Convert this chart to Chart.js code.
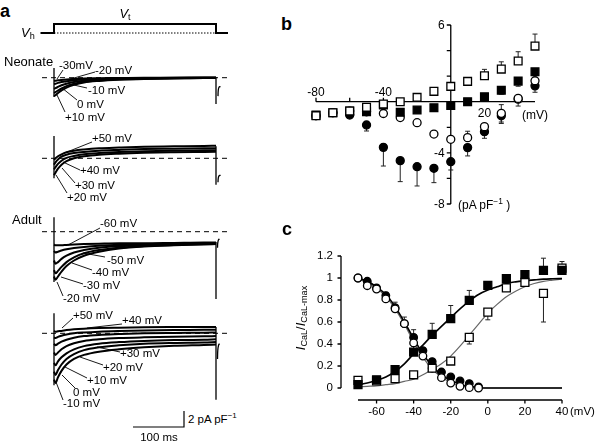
<!DOCTYPE html>
<html>
<head>
<meta charset="utf-8">
<script src="https://cdn.jsdelivr.net/npm/chart.js@4.4.0/dist/chart.umd.min.js"></script>
<style>
  body { margin: 0; width: 600px; height: 446px; position: relative; background: #fff; overflow: hidden;
         font-family: "Liberation Sans", Arial, Helvetica, sans-serif; color: #000; }
  canvas { position: absolute; }
  .t { position: absolute; font-size: 11.5px; line-height: 1; white-space: nowrap; }
  .tick { font-size: 12px; }
  .tickc { font-size: 11.5px; }
  .panel { font-size: 18px; font-weight: bold; }
  .grp { font-size: 13px; }
  sub { font-size: 0.7em; vertical-align: -0.25em; line-height: 0; }
  svg { position: absolute; left: 0; top: 0; }
</style>
</head>
<body>
<svg id="leaders" width="600" height="446"></svg>
<script>
// ---------- panel a: current traces (pA/pF) sampled at these times (ms) ----------
const traceTimes = [0, 3, 8, 15, 25, 40, 60, 90, 130, 180, 240, 300, 324];

const neoNegLabels = ['-30mV', '-20 mV', '-10 mV', '0 mV', '+10 mV'];
const neoNegTraces = [
  [-0.4, -0.38, -0.33, -0.28, -0.22, -0.16, -0.1, -0.07, -0.04, 0, 0, 0.03, 0.03],
  [-0.8, -0.75, -0.65, -0.55, -0.45, -0.33, -0.22, -0.15, -0.1, -0.05, 0, 0, 0],
  [-1.4, -1.3, -1.15, -0.95, -0.75, -0.55, -0.38, -0.25, -0.15, -0.1, -0.05, 0, 0],
  [-1.9, -1.8, -1.6, -1.35, -1.05, -0.75, -0.5, -0.33, -0.2, -0.12, -0.08, -0.05, -0.05],
  [-2.3, -2.2, -1.9, -1.6, -1.25, -0.9, -0.6, -0.4, -0.25, -0.15, -0.1, -0.05, -0.05]
];
const neoPosLabels = ['+50 mV', '+40 mV', '+30 mV', '+20 mV'];
const neoPosTraces = [
  [-0.2, 0.0, 0.25, 0.5, 0.75, 0.95, 1.1, 1.25, 1.35, 1.45, 1.5, 1.55, 1.58],
  [-0.8, -0.5, -0.15, 0.2, 0.45, 0.65, 0.8, 0.95, 1.05, 1.15, 1.2, 1.25, 1.27],
  [-1.4, -1.1, -0.7, -0.3, 0.05, 0.3, 0.5, 0.65, 0.78, 0.88, 0.95, 1.0, 1.02],
  [-2.1, -1.8, -1.3, -0.8, -0.35, 0.0, 0.25, 0.45, 0.58, 0.68, 0.75, 0.8, 0.82]
];
const adultNegLabels = ['-60 mV', '-50 mV', '-40 mV', '-30 mV', '-20 mV'];
const adultNegTraces = [
  [-1.6, -1.7, -1.7, -1.7, -1.65, -1.6, -1.55, -1.5, -1.45, -1.45, -1.4, -1.35, -1.35],
  [-2.4, -2.6, -2.5, -2.35, -2.2, -2.05, -1.9, -1.75, -1.65, -1.55, -1.5, -1.45, -1.4],
  [-3.6, -4.0, -3.8, -3.4, -3.0, -2.6, -2.3, -2.0, -1.8, -1.65, -1.55, -1.5, -1.45],
  [-4.8, -5.2, -4.9, -4.4, -3.8, -3.2, -2.7, -2.3, -2.0, -1.8, -1.65, -1.55, -1.5],
  [-5.6, -6.0, -5.6, -5.0, -4.3, -3.6, -3.0, -2.5, -2.1, -1.85, -1.7, -1.6, -1.55]
];
const adultPosLabels = ['+50 mV', '+40 mV', '+30 mV', '+20 mV', '+10 mV', '0 mV', '-10 mV'];
const adultPosTraces = [
  [0.3, 0.2, 0.25, 0.3, 0.4, 0.5, 0.58, 0.65, 0.7, 0.75, 0.78, 0.8, 0.8],
  [-0.5, -0.6, -0.45, -0.3, -0.15, 0.0, 0.1, 0.2, 0.28, 0.35, 0.4, 0.43, 0.45],
  [-1.3, -1.5, -1.3, -1.05, -0.8, -0.55, -0.35, -0.2, -0.1, 0.0, 0.05, 0.08, 0.1],
  [-2.4, -2.7, -2.4, -2.0, -1.6, -1.25, -0.95, -0.75, -0.6, -0.5, -0.42, -0.38, -0.35],
  [-3.7, -4.0, -3.5, -3.0, -2.5, -2.0, -1.6, -1.3, -1.1, -0.95, -0.85, -0.8, -0.75],
  [-4.8, -5.2, -4.6, -3.9, -3.2, -2.6, -2.1, -1.75, -1.5, -1.3, -1.2, -1.15, -1.1],
  [-5.8, -6.2, -5.5, -4.7, -3.9, -3.2, -2.7, -2.3, -2.0, -1.75, -1.55, -1.45, -1.4]
];
// capacity transients at pulse on / off, and the tail hook after the pulse
const onsetArtifact = [[1.2, -2.4], [2.8, -2.5], [1.8, -6.3], [2.5, -6.5]];
const offsetArtifact = [[0.1, -3.3], [1.5, -3.3], [-1.3, -8.4], [0.8, -8.3]];
const hookTimes = [[328, 328.5, 330, 333], [328, 328.5, 330, 333], [327, 327.5, 329, 331], [327, 327.5, 329, 331]];
const hookValues = [[-2.3, -1.6, -1.2, -1.1], [-3.0, -2.5, -2.2, -2.1], [-2.0, -1.4, -1.0, -0.9], [-3.2, -2.2, -1.5, -1.3]];

// voltage protocol
const protoTimes = [-27, 0, 0, 324, 324, 348];
const protoLevels = [0, 0, 1, 1, 0, 0];

// ---------- panel b: I-V relation ----------
const ivVoltages = [-80, -70, -60, -50, -40, -30, -20, -10, 0, 10, 20, 30, 40, 50];
const ivOpenSq = [-1.09, -0.86, -0.73, -0.44, -0.18, 0.0, 0.34, 0.81, 1.2, 1.59, 2.03, 2.55, 3.18, 4.35];
const ivOpenSqErrUp = [0, 0, 0, 0, 0, 0, 0, 0, 0, 0, 0.5, 0.57, 0.73, 0.94];
const ivFilledSq = [-1.05, -0.86, -0.73, -0.79, -0.25, -0.83, -0.65, -0.47, -0.29, 0, 0.39, 0.89, 1.61, 2.34];
const ivFilledSqErrDown = [0, 0, 0, 0, 0, 0, 0, 0, 0, 0, 0, 0.3, 0.4, 0];
const ivOpenCirc = [-1.09, -0.86, -0.73, -0.79, -0.92, -1.24, -1.64, -2.53, -2.94, -2.81, -1.95, -0.91, 0.26, 1.64];
const ivOpenCircErrUp = [0, 0, 0, 0, 0, 0, 0, 0, 0, 0.5, 0, 0.68, 0, 0];
const ivOpenCircErrDown = [0, 0, 0, 0, 0, 0, 0, 0, 0, 0, 0, 0.68, 0.6, 0];
const ivFilledCirc = [-1.09, -0.86, -1.04, -1.82, -3.57, -4.61, -5.08, -5.21, -4.69, -3.59, -2.34, -1.1, 0.2, 1.24];
const ivFilledCircErrDown = [0, 0, 0, 0.47, 1.46, 1.64, 1.51, 1.12, 0.65, 0.65, 0.52, 0.6, 0, 0.5];
const ivXTicks = [-80, -60, -40, -20, 0, 20, 40];
const ivYTicks = [6, 4, 2, -2, -4, -6, -8];
const ivXLabelsAbove = [-80, -40];
const ivXLabelsBelow = [20];
const ivYLabels = [6, -4, -8];

// ---------- panel c: activation / inactivation ----------
const actVoltages = [-70, -60, -50, -40, -30, -20, -10, 0, 10, 20, 30, 40];
const actAdult = [0.03, 0.075, 0.167, 0.327, 0.488, 0.63, 0.797, 0.933, 0.994, 1.03, 1.07, 1.07];
const actAdultErrUp = [0, 0, 0, 0.05, 0.1, 0.12, 0.09, 0, 0, 0, 0.11, 0];
const actNeo = [0.07, 0.064, 0.085, 0.12, 0.18, 0.245, 0.46, 0.69, 0.91, 0.96, 0.86, 1.09];
const actNeoErrUp = [0, 0, 0, 0, 0, 0, 0, 0, 0, 0, 0, 0.06];
const actNeoErrDown = [0, 0, 0, 0, 0, 0, 0.06, 0.07, 0, 0, 0.26, 0];
const inactVoltages = [-70, -65, -60, -55, -50, -45, -40, -35, -30, -25, -20, -15, -10, -5];
const inactNeo = [1.0, 0.93, 0.9, 0.81, 0.72, 0.585, 0.41, 0.29, 0.18, 0.094, 0.045, 0.015, 0.003, 0.0];
const inactNeoErrUp = [0, 0, 0, 0, 0.06, 0.06, 0, 0, 0, 0, 0, 0, 0, 0];
const inactAdult = [1.0, 0.97, 0.91, 0.84, 0.73, 0.585, 0.46, 0.34, 0.24, 0.145, 0.1, 0.064, 0.04, 0.01];
const inactAdultErrUp = [0, 0, 0, 0.03, 0, 0, 0.07, 0, 0, 0, 0, 0, 0, 0];
const fitVoltages = [-70, -65, -60, -55, -50, -45, -40, -35, -30, -25, -20, -15, -10, -5, 0, 5, 10, 15, 20, 25, 30, 35, 40];
const fitActAdult = [0.03, 0.045, 0.07, 0.1, 0.15, 0.22, 0.31, 0.39, 0.48, 0.56, 0.64, 0.72, 0.79, 0.85, 0.89, 0.92, 0.95, 0.965, 0.975, 0.983, 0.99, 0.993, 0.995];
const fitActNeo = [0.01, 0.015, 0.02, 0.03, 0.04, 0.06, 0.08, 0.12, 0.17, 0.22, 0.29, 0.38, 0.48, 0.58, 0.68, 0.76, 0.83, 0.88, 0.92, 0.95, 0.97, 0.98, 0.99];
const fitInactAdult = [1.0, 0.97, 0.92, 0.85, 0.74, 0.6, 0.45, 0.31, 0.2, 0.12, 0.07, 0.035, 0.015, 0.005, 0, 0, 0, 0, 0, 0, 0, 0, 0];
const fitInactNeo = [0.99, 0.96, 0.91, 0.83, 0.72, 0.58, 0.42, 0.28, 0.17, 0.1, 0.05, 0.02, 0.008, 0.002, 0, 0, 0, 0, 0, 0, 0, 0, 0];
const cXTicks = [-60, -40, -20, 0, 20, 40];
const cYTicks = [0, 0.2, 0.4, 0.6, 0.8, 1, 1.2];

// ---------- helpers ----------
function makeCanvas(left, top, w, h) {
  const c = document.createElement('canvas');
  c.width = w; c.height = h;
  c.style.left = left + 'px'; c.style.top = top + 'px';
  c.style.width = w + 'px'; c.style.height = h + 'px';
  document.body.appendChild(c);
  return c;
}

function text(html, x, y, cls, align) {
  const d = document.createElement('div');
  d.className = 't ' + (cls || '');
  d.innerHTML = html;
  d.style.left = x + 'px';
  d.style.top = y + 'px';
  const tx = align === 'r' ? '-100%' : align === 'c' ? '-50%' : '0';
  d.style.transform = 'translate(' + tx + ',-50%)';
  document.body.appendChild(d);
  return d;
}

function pts(xs, ys) {
  return xs.map((x, i) => ({ x: x, y: ys[i] }));
}

function baseOptions(xmin, xmax, ymin, ymax, padding) {
  return {
    responsive: false,
    animation: false,
    events: [],
    layout: { padding: padding || 0 },
    plugins: { legend: { display: false }, tooltip: { enabled: false } },
    scales: {
      x: { type: 'linear', min: xmin, max: xmax, display: false },
      y: { type: 'linear', min: ymin, max: ymax, display: false }
    }
  };
}

function drawErrors(ctx, chart, xs, ys, up, down, cap) {
  const { x, y } = chart.scales;
  ctx.beginPath();
  xs.forEach((v, i) => {
    const px = x.getPixelForValue(v);
    const py = y.getPixelForValue(ys[i]);
    if (up && up[i]) {
      const pt = y.getPixelForValue(ys[i] + up[i]);
      ctx.moveTo(px, py); ctx.lineTo(px, pt);
      ctx.moveTo(px - cap, pt); ctx.lineTo(px + cap, pt);
    }
    if (down && down[i]) {
      const pb = y.getPixelForValue(ys[i] - down[i]);
      ctx.moveTo(px, py); ctx.lineTo(px, pb);
      ctx.moveTo(px - cap, pb); ctx.lineTo(px + cap, pb);
    }
  });
  ctx.stroke();
}

// ---------- panel a ----------
const TR_LEFT = 40, TR_WIDTH = 190, T_MIN = -28, T_MAX = 352, PX_PER_UNIT = 8;

function traceGroup(top, height, zeroY, traces, k) {
  const canvas = makeCanvas(TR_LEFT, top, TR_WIDTH, height);
  const ymax = (zeroY - top) / PX_PER_UNIT;
  const ymin = -(top + height - zeroY) / PX_PER_UNIT;
  const datasets = [];
  datasets.push({
    data: [{ x: -24, y: 0 }, { x: 352, y: 0 }],
    borderColor: '#000', borderWidth: 1, borderDash: [5, 4], pointRadius: 0
  });
  traces.forEach(tr => {
    datasets.push({
      data: pts(traceTimes, tr),
      borderColor: '#000', borderWidth: 2, pointRadius: 0,
      cubicInterpolationMode: 'monotone'
    });
  });
  datasets.push({
    data: pts([0, 0], onsetArtifact[k]),
    borderColor: '#000', borderWidth: 1.3, pointRadius: 0
  });
  datasets.push({
    data: pts([324, 324], offsetArtifact[k]),
    borderColor: '#000', borderWidth: 1.3, pointRadius: 0
  });
  datasets.push({
    data: pts(hookTimes[k], hookValues[k]),
    borderColor: '#000', borderWidth: 1.3, pointRadius: 0, tension: 0.4
  });
  datasets.forEach(d => { d.clip = false; });
  new Chart(canvas, { type: 'line', data: { datasets: datasets }, options: baseOptions(T_MIN, T_MAX, ymin, ymax) });
}

// voltage protocol
(function () {
  const canvas = makeCanvas(TR_LEFT, 18, TR_WIDTH, 20);
  new Chart(canvas, {
    type: 'line',
    data: {
      datasets: [
        { data: pts(protoTimes, protoLevels), borderColor: '#000', borderWidth: 2, pointRadius: 0, clip: false },
        { data: [{ x: 0, y: 0 }, { x: 324, y: 0 }], borderColor: '#000', borderWidth: 1, borderDash: [1.5, 1.5], pointRadius: 0, clip: false }
      ]
    },
    options: baseOptions(T_MIN, T_MAX, 0, 1, { top: 6, bottom: 5 })
  });
})();

traceGroup(62, 50, 77.7, neoNegTraces, 0);
traceGroup(130, 60, 158.3, neoPosTraces, 1);
traceGroup(212, 92, 231.7, adultNegTraces, 2);
traceGroup(308, 96, 333.3, adultPosTraces, 3);

// panel a text
text('a', 0, 11, 'panel');
text('<i>V</i><sub>t</sub>', 125, 13, 'grp', 'c');
text('<i>V</i><sub>h</sub>', 21, 32, 'grp');
text('Neonate', 4, 61, 'grp');
text('Adult', 12, 219, 'grp');

const traceLabelPos = [
  [[59, 66], [95, 70.5], [88, 91], [77, 105], [65, 117.5]],
  [[92, 139], [80, 171], [75, 186], [67, 197.5]],
  [[100, 224], [107, 260.5], [92, 272.5], [83, 286], [63, 299]],
  [[73, 316], [122, 321], [120, 354], [103, 367.5], [87, 381], [73, 392.5], [63, 404]]
];
const leaderLines = [
  [[63, 70, 57, 79], [95, 72, 67, 80], [87, 88, 65, 83], [77, 100, 62, 88], [65, 112, 57, 95]],
  [[92, 142, 62, 154], [80, 170, 63, 162], [75, 183, 62, 168], [67, 193, 56, 175]],
  [[100, 228, 68, 245], [105, 257, 83, 253], [92, 270, 72, 263], [83, 284, 61, 277], [63, 296, 57, 282]],
  [[73, 318, 62, 328], [122, 324, 87, 328], [120, 352, 97, 347], [103, 365, 80, 357], [87, 378, 65, 367], [75, 388, 62, 375], [63, 400, 56, 382]]
];
[neoNegLabels, neoPosLabels, adultNegLabels, adultPosLabels].forEach((labels, g) => {
  labels.forEach((lab, i) => {
    const p = traceLabelPos[g][i];
    text(lab, p[0], p[1]);
  });
});
const svg = document.getElementById('leaders');
let svgHtml = '';
leaderLines.forEach(g => g.forEach(l => {
  svgHtml += '<line x1="' + l[0] + '" y1="' + l[1] + '" x2="' + l[2] + '" y2="' + l[3] + '" stroke="#000" stroke-width="0.9"/>';
}));
// scale bar
svgHtml += '<polyline points="133,427 184,427 184,411" fill="none" stroke="#000" stroke-width="1.2"/>';
svg.innerHTML = svgHtml;
text('2 pA pF<sup style="font-size:0.7em">\u22121</sup>', 188, 419);
text('100 ms', 159, 438, '', 'c');

// ---------- panel b ----------
(function () {
  const L = 295, T = 0;
  const canvas = makeCanvas(L, T, 305, 215);
  const axesB = {
    id: 'axesB',
    beforeDatasetsDraw(chart) {
      const { ctx } = chart;
      const { x, y } = chart.scales;
      const x0 = x.getPixelForValue(0), y0 = y.getPixelForValue(0);
      ctx.save();
      ctx.strokeStyle = '#000';
      ctx.lineWidth = 1.3;
      ctx.beginPath();
      ctx.moveTo(x.getPixelForValue(-80), y0); ctx.lineTo(x.getPixelForValue(50), y0);
      ctx.moveTo(x0, y.getPixelForValue(6)); ctx.lineTo(x0, y.getPixelForValue(-8));
      ivXTicks.forEach(v => { const p = x.getPixelForValue(v); ctx.moveTo(p, y0); ctx.lineTo(p, y0 - 4); });
      ivYTicks.forEach(v => { const p = y.getPixelForValue(v); ctx.moveTo(x0, p); ctx.lineTo(x0 - 4, p); });
      ctx.stroke();
      ctx.lineWidth = 1;
      ctx.strokeStyle = '#222';
      drawErrors(ctx, chart, ivVoltages, ivFilledCirc, null, ivFilledCircErrDown, 2.5);
      drawErrors(ctx, chart, ivVoltages, ivOpenCirc, ivOpenCircErrUp, ivOpenCircErrDown, 2.5);
      drawErrors(ctx, chart, ivVoltages, ivFilledSq, null, ivFilledSqErrDown, 2.5);
      drawErrors(ctx, chart, ivVoltages, ivOpenSq, ivOpenSqErrUp, null, 2.5);
      ctx.restore();
    }
  };
  const marker = (ys, style, fill, r) => ({
    data: pts(ivVoltages, ys), showLine: false, pointStyle: style, pointRadius: r,
    pointBackgroundColor: fill, pointBorderColor: '#000', pointBorderWidth: 1.3, clip: false
  });
  const chart = new Chart(canvas, {
    type: 'scatter',
    data: {
      datasets: [
        marker(ivOpenSq, 'rect', '#fff', 5.5),
        marker(ivFilledSq, 'rect', '#000', 5.5),
        marker(ivOpenCirc, 'circle', '#fff', 4),
        marker(ivFilledCirc, 'circle', '#000', 4)
      ]
    },
    options: baseOptions(-80, 50, -8, 6, { left: 21, right: 65, top: 25, bottom: 11 }),
    plugins: [axesB]
  });
  const sx = chart.scales.x, sy = chart.scales.y;
  const x0 = L + sx.getPixelForValue(0), y0 = T + sy.getPixelForValue(0);
  ivXLabelsAbove.forEach(v => text(String(v), L + sx.getPixelForValue(v), y0 - 9.5, 'tick', 'c'));
  ivXLabelsBelow.forEach(v => text(String(v), L + sx.getPixelForValue(v), y0 + 11, 'tick', 'c'));
  ivYLabels.forEach(v => text(String(v), x0 - 6, T + sy.getPixelForValue(v), 'tick', 'r'));
  text('(mV)', 522, y0 + 13.5, 'tick');
  text('(pA pF<sup style="font-size:0.7em">\u22121</sup> )', 458, T + sy.getPixelForValue(-8), 'tick');
  text('b', 281, 24, 'panel');
})();

// ---------- panel c ----------
(function () {
  const L = 295, T = 215;
  const canvas = makeCanvas(L, T, 305, 231);
  const Y_AXIS_X = 341 - L, X_AXIS_Y = 400 - T;
  const axesC = {
    id: 'axesC',
    beforeDatasetsDraw(chart) {
      const { ctx } = chart;
      const { x, y } = chart.scales;
      ctx.save();
      ctx.strokeStyle = '#000';
      ctx.lineWidth = 1.3;
      ctx.beginPath();
      ctx.moveTo(Y_AXIS_X, y.getPixelForValue(1.2)); ctx.lineTo(Y_AXIS_X, y.getPixelForValue(0));
      cYTicks.forEach(v => { const p = y.getPixelForValue(v); ctx.moveTo(Y_AXIS_X, p); ctx.lineTo(Y_AXIS_X - 3.5, p); });
      ctx.moveTo(x.getPixelForValue(-70), X_AXIS_Y); ctx.lineTo(x.getPixelForValue(40), X_AXIS_Y);
      cXTicks.forEach(v => { const p = x.getPixelForValue(v); ctx.moveTo(p, X_AXIS_Y); ctx.lineTo(p, X_AXIS_Y + 3.5); });
      ctx.stroke();
      ctx.lineWidth = 1;
      ctx.strokeStyle = '#222';
      drawErrors(ctx, chart, actVoltages, actAdult, actAdultErrUp, null, 2.5);
      drawErrors(ctx, chart, actVoltages, actNeo, actNeoErrUp, actNeoErrDown, 2.5);
      drawErrors(ctx, chart, inactVoltages, inactNeo, inactNeoErrUp, null, 2.5);
      drawErrors(ctx, chart, inactVoltages, inactAdult, inactAdultErrUp, null, 2.5);
      ctx.restore();
    }
  };
  const marker = (xs, ys, style, fill, r) => ({
    data: pts(xs, ys), showLine: false, pointStyle: style, pointRadius: r,
    pointBackgroundColor: fill, pointBorderColor: '#000', pointBorderWidth: 1.3, clip: false
  });
  const curve = (ys, color, w) => ({
    data: pts(fitVoltages, ys), showLine: true, pointRadius: 0, borderColor: color,
    borderWidth: w, cubicInterpolationMode: 'monotone', clip: false
  });
  const chart = new Chart(canvas, {
    type: 'scatter',
    data: {
      datasets: [
        marker(actVoltages, actAdult, 'rect', '#000', 5.6),
        marker(actVoltages, actNeo, 'rect', '#fff', 5.6),
        marker(inactVoltages, inactNeo, 'circle', '#fff', 3.8),
        marker(inactVoltages, inactAdult, 'circle', '#000', 3.8),
        curve(fitActAdult, '#000', 1.6),
        curve(fitInactAdult, '#000', 1.6),
        curve(fitActNeo, '#666', 1.2),
        curve(fitInactNeo, '#666', 1.2)
      ]
    },
    options: baseOptions(-70, 40, 0, 1.2, { left: 63, right: 38, top: 41, bottom: 58 }),
    plugins: [axesC]
  });
  const sx = chart.scales.x, sy = chart.scales.y;
  cYTicks.forEach(v => text(String(v), L + Y_AXIS_X - 8, T + sy.getPixelForValue(v), 'tickc', 'r'));
  cXTicks.forEach(v => text(String(v), L + sx.getPixelForValue(v), 411.5, 'tickc', 'c'));
  text('(mV)', 570, 411.5, 'tickc');
  const yl = text('<i>I</i><sub>CaL</sub>/<i>I</i><sub>CaL-max</sub>', 300, 318, 'grp');
  yl.style.transform = 'translate(-50%,-50%) rotate(-90deg)';
  text('c', 282, 229, 'panel');
})();
</script>
</body>
</html>
